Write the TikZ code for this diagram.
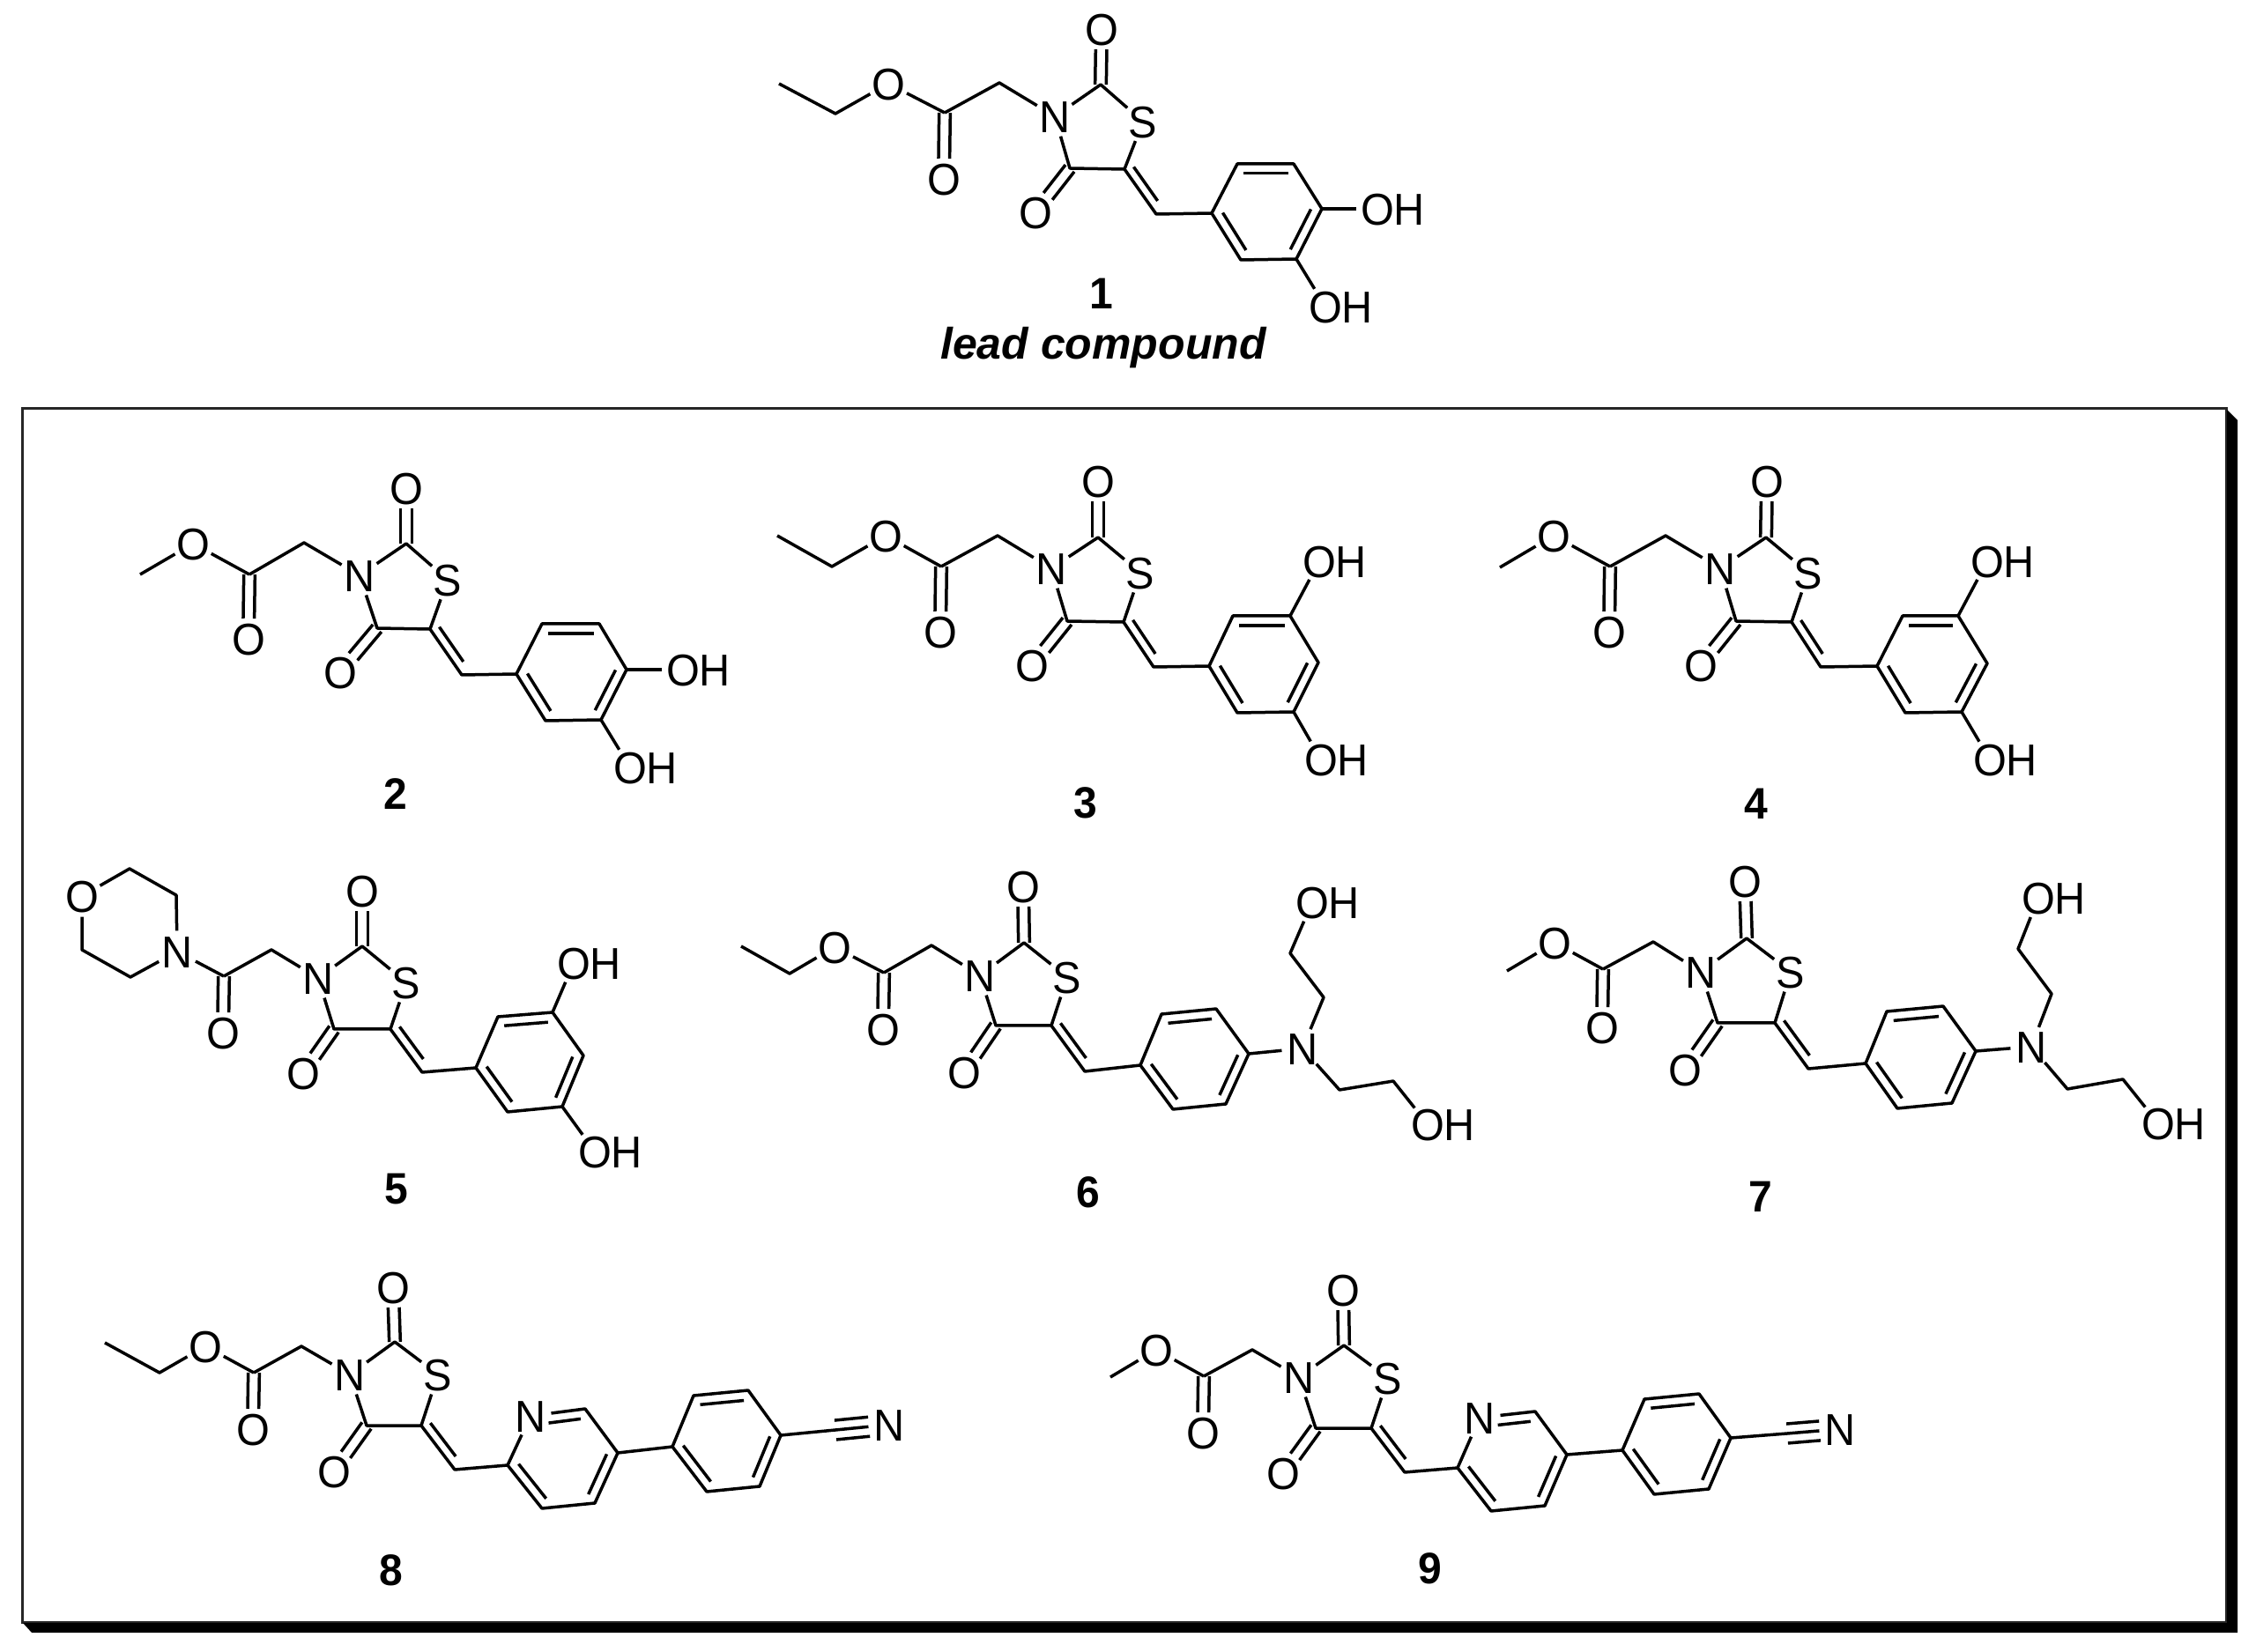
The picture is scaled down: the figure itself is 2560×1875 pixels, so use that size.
\documentclass[tikz,border=0pt]{standalone}
\usepackage{fontspec}
\setmainfont{Liberation Sans}
\newfontfamily\atomfam[FakeStretch=0.96]{Liberation Sans}
\usetikzlibrary{calc}
\newcommand\atxt[1]{\makebox[0pt][c]{\raisebox{-0.358em}[0pt][0pt]{#1}}}
\newcommand\ohtxt{\makebox[0pt][l]{\kern-0.375em\raisebox{-0.358em}[0pt][0pt]{OH}}}
\tikzset{
  bond/.style={line width=1.05pt,line join=round,draw=black},
  atom/.style={circle,inner sep=0pt,minimum size=13.8pt,font=\atomfam\fontsize{15.2pt}{15.2pt}\selectfont},
  cpdnum/.style={inner sep=0pt,font=\atomfam\fontsize{15pt}{15pt}\selectfont\bfseries},
  leadlbl/.style={inner sep=0pt,font=\fontsize{15pt}{15pt}\selectfont\bfseries\itshape}
}
\newcommand\carbons[2]{\foreach \n/\x/\y in {#2}{\coordinate (#1\n) at (\x,\y);}}
\newcommand\heteros[2]{\foreach \n/\x/\y/\lbl in {#2}{\node[atom] (#1\n) at (\x,\y) {\atxt{\lbl}};}}
\newcommand\hydroxyls[2]{\foreach \n/\x/\y in {#2}{\node[atom] (#1\n) at (\x,\y) {\ohtxt};}}
\newcommand\dsym[2]{%
  \draw[bond,shorten >=6.9pt] ($(#1)!1.9pt!90:(#2)$) -- ($(#2)!1.9pt!-90:(#1)$);
  \draw[bond,shorten >=6.9pt] ($(#1)!1.9pt!-90:(#2)$) -- ($(#2)!1.9pt!90:(#1)$);}
\newcommand\dside[2]{%
  \draw[bond,shorten <=1.2pt,shorten >=3.4pt] ($(#1)!3pt!90:(#2)$) -- ($(#2)!3pt!-90:(#1)$);}
\newcommand\core[1]{%
  \draw[bond] (#1Cc) -- (#1CH2) -- (#1N) -- (#1C2) -- (#1S) -- (#1C5) -- (#1C4) -- (#1N);
  \dsym{#1C2}{#1Otop}
  \dsym{#1C4}{#1O4}
  \dsym{#1Cc}{#1Oc}
  \draw[bond] (#1C5) -- (#1CH) -- (#1r1);
  \dside{#1C5}{#1CH}}
\newcommand\ringb[2][shorten >=0pt]{%
  \coordinate (#2rc) at ($(#2r1)!.5!(#2r4)$);
  \draw[bond] (#2r1) -- (#2r2) -- (#2r3) -- (#2r4) -- (#2r5) -- (#2r6) -- (#2r1);
  \draw[bond] ($(#2r1)!.2!(#2rc)$) -- ($(#2r2)!.2!(#2rc)$);
  \draw[bond] ($(#2r3)!.2!(#2rc)$) -- ($(#2r4)!.2!(#2rc)$);
  \draw[bond,#1] ($(#2r5)!.2!(#2rc)$) -- ($(#2r6)!.2!(#2rc)$);}
\newcommand\triple[3]{%
  \draw[bond] (#1) -- (#2) -- (#3);
  \draw[bond,shorten >=6.9pt] ($(#2)!3.3pt!90:(#3)$) -- ($(#3)!3.3pt!-90:(#2)$);
  \draw[bond,shorten >=6.9pt] ($(#2)!3.3pt!-90:(#3)$) -- ($(#3)!3.3pt!90:(#2)$);}
\begin{document}
\begin{tikzpicture}[x=0.3pt,y=-0.3pt]
\useasboundingbox (0,0) rectangle (2560,1875);
% frame
\coordinate (fa) at (25,464);
\coordinate (fb) at (2526,1841);
\draw[line width=0.9pt,draw=black!85] (fa) rectangle (fb);
\fill[black] (2527,465) -- (2539,477) -- (2539,1853) -- (36,1853) -- (26,1842) -- (2527,1842) -- cycle;
% 1
\carbons{m1}{me/884/95,a/948/129,Cc/1072/128,CH2/1134/94,C2/1249/96,C5/1276/192,C4/1214/191,CH/1312/243,r1/1375/242,r2/1408/295,r3/1471/294,r4/1500/237,r5/1468/186,r6/1404/186}
\heteros{m1}{O1/1008/95/O,Oc/1071/203/O,N/1197/132/N,Otop/1250/33/O,S/1297/138/S,O4/1175/241/O}
\hydroxyls{m1}{OHa/1563/237,OHb/1504/348}
\draw[bond] (m1me) -- (m1a) -- (m1O1) -- (m1Cc);
\core{m1}\ringb{m1}
\draw[bond] (m1r4) -- (m1OHa);
\draw[bond] (m1r3) -- (m1OHb);
\node[cpdnum] (n1) at (1250,333) {1};
\node[leadlbl] (lead) at (1252,395) {lead compound};
% 2
\carbons{m2}{me/159/652,Cc/283/652,CH2/345/616,C2/461/617,C5/488/714,C4/428/713,CH/524/766,r1/586/765,r2/619/818,r3/682/817,r4/711/760,r5/680/708,r6/615/708}
\heteros{m2}{O1/219/617/O,Oc/282/725/O,N/408/653/N,Otop/461/554/O,S/508/658/S,O4/386/763/O}
\hydroxyls{m2}{OHa/775/760,OHb/715/871}
\draw[bond] (m2me) -- (m2O1) -- (m2Cc);
\core{m2}\ringb{m2}
\draw[bond] (m2r4) -- (m2OHa);
\draw[bond] (m2r3) -- (m2OHb);
\node[cpdnum] (n2) at (449,901) {2};
% 3
\carbons{m3}{me/882/608,a/944/643,Cc/1068/643,CH2/1132/608,C2/1246/610,C5/1275/706,C4/1211/705,CH/1309/757,r1/1372/756,r2/1404/809,r3/1468/808,r4/1496/752,r5/1464/699,r6/1399/699}
\heteros{m3}{O1/1005/608/O,Oc/1067/717/O,N/1193/645/N,Otop/1246/546/O,S/1294/650/S,O4/1171/755/O}
\hydroxyls{m3}{OHa/1497/637,OHb/1499/862}
\draw[bond] (m3me) -- (m3a) -- (m3O1) -- (m3Cc);
\core{m3}\ringb{m3}
\draw[bond] (m3r5) -- (m3OHa);
\draw[bond] (m3r3) -- (m3OHb);
\node[cpdnum] (n3) at (1232,911) {3};
% 4
\carbons{m4}{me/1702/644,Cc/1827/643,CH2/1890/608,C2/2004/610,C5/2033/706,C4/1970/705,CH/2066/757,r1/2130/756,r2/2162/809,r3/2226/808,r4/2255/753,r5/2222/699,r6/2159/699}
\heteros{m4}{O1/1763/608/O,Oc/1826/717/O,N/1952/645/N,Otop/2005/546/O,S/2052/650/S,O4/1930/755/O}
\hydroxyls{m4}{OHa/2255/637,OHb/2258/862}
\draw[bond] (m4me) -- (m4O1) -- (m4Cc);
\core{m4}\ringb{m4}
\draw[bond] (m4r5) -- (m4OHa);
\draw[bond] (m4r3) -- (m4OHb);
\node[cpdnum] (n4) at (1993,912) {4};
% 5
\carbons{m5}{c1/147/986,c2/200/1016,c3/148/1109,c4/93/1078,Cc/254/1108,CH2/308/1078,C2/411/1074,C5/443/1168,C4/379/1168,CH/479/1217,r1/540/1212,r2/576/1262,r3/638/1256,r4/662/1198,r5/627/1149,r6/565/1154}
\heteros{m5}{Om/93/1017/O,Np/201/1080/N,Oc/253/1172/O,N/361/1110/N,Otop/411/1011/O,S/461/1115/S,O4/344/1218/O}
\hydroxyls{m5}{OHa/651/1093,OHb/675/1307}
\draw[bond] (m5Om) -- (m5c1) -- (m5c2) -- (m5Np) -- (m5c3) -- (m5c4) -- (m5Om);
\draw[bond] (m5Np) -- (m5Cc);
\core{m5}\ringb{m5}
\draw[bond] (m5r5) -- (m5OHa);
\draw[bond] (m5r3) -- (m5OHb);
\node[cpdnum] (n5) at (450,1350) {5};
% 6
\carbons{m6}{me/841/1074,a/896/1105,Cc/1003/1104,CH2/1057/1073,C2/1162/1070,C5/1193/1164,C4/1130/1164,CH/1231/1216,r1/1294/1209,r2/1331/1259,r3/1391/1253,r4/1417/1196,r5/1380/1145,r6/1318/1151,a1/1502/1132,a2/1464/1082,b1/1520/1237,b2/1581/1227}
\heteros{m6}{O1/947/1075/O,Oc/1002/1168/O,N/1112/1107/N,Otop/1161/1006/O,S/1211/1109/S,O4/1094/1217/O,Np/1478/1190/N}
\hydroxyls{m6}{OHa/1489/1024,OHb/1620/1276}
\draw[bond] (m6me) -- (m6a) -- (m6O1) -- (m6Cc);
\core{m6}\ringb{m6}
\draw[bond] (m6r4) -- (m6Np);
\draw[bond] (m6Np) -- (m6a1) -- (m6a2) -- (m6OHa);
\draw[bond] (m6Np) -- (m6b1) -- (m6b2) -- (m6OHb);
\node[cpdnum] (n6) at (1235,1353) {6};
% 7
\carbons{m7}{me/1710/1102,Cc/1819/1100,CH2/1876/1069,C2/1982/1065,C5/2014/1161,C4/1949/1161,CH/2052/1213,r1/2117/1207,r2/2153/1258,r3/2215/1252,r4/2242/1193,r5/2205/1142,r6/2141/1148,a1/2328/1128,a2/2290/1077,b1/2346/1236,b2/2409/1225}
\heteros{m7}{O1/1764/1070/O,Oc/1818/1166/O,N/1930/1103/N,Otop/1980/1000/O,S/2032/1103/S,O4/1912/1214/O,Np/2305/1188/N}
\hydroxyls{m7}{OHa/2313/1019,OHb/2449/1275}
\draw[bond] (m7me) -- (m7O1) -- (m7Cc);
\core{m7}\ringb{m7}
\draw[bond] (m7r4) -- (m7Np);
\draw[bond] (m7Np) -- (m7a1) -- (m7a2) -- (m7OHa);
\draw[bond] (m7Np) -- (m7b1) -- (m7b2) -- (m7OHb);
\node[cpdnum] (n7) at (1998,1358) {7};
% 8
\carbons{m8}{me/119/1524,a/181/1558,Cc/288/1558,CH2/342/1528,C2/448/1523,C5/478/1618,C4/416/1618,CH/516/1668,r1/576/1663,r2/615/1712,r3/675/1706,r4/701/1649,r5/664/1599,Ar1/763/1642,Ar2/802/1693,Ar3/862/1687,Ar4/886/1629,Ar5/849/1578,Ar6/787/1584,Cn/948/1623}
\heteros{m8}{O1/233/1528/O,Oc/287/1622/O,N/397/1560/N,Otop/446/1461/O,S/497/1560/S,O4/379/1670/O,r6/602/1607/N,Nn/1009/1617/N}
\draw[bond] (m8me) -- (m8a) -- (m8O1) -- (m8Cc);
\core{m8}\ringb[shorten >=4pt]{m8}
\draw[bond] (m8r4) -- (m8Ar1);
\ringb{m8A}
\triple{m8Ar4}{m8Cn}{m8Nn}
\node[cpdnum] (n8) at (444,1782) {8};
% 9
\carbons{m9}{me/1260/1563,Cc/1366/1562,CH2/1421/1532,C2/1525/1527,C5/1556/1621,C4/1493/1621,CH/1594/1671,r1/1654/1666,r2/1692/1715,r3/1753/1709,r4/1778/1651,r5/1742/1602,Ar1/1841/1646,Ar2/1877/1696,Ar3/1939/1690,Ar4/1964/1632,Ar5/1928/1582,Ar6/1866/1588,Cn/2028/1627}
\heteros{m9}{O1/1312/1532/O,Oc/1365/1626/O,N/1474/1563/N,Otop/1524/1464/O,S/1575/1564/S,O4/1456/1672/O,r6/1679/1609/N,Nn/2088/1622/N}
\draw[bond] (m9me) -- (m9O1) -- (m9Cc);
\core{m9}\ringb[shorten >=4pt]{m9}
\draw[bond] (m9r4) -- (m9Ar1);
\ringb{m9A}
\triple{m9Ar4}{m9Cn}{m9Nn}
\node[cpdnum] (n9) at (1623,1780) {9};
\end{tikzpicture}
\end{document}
